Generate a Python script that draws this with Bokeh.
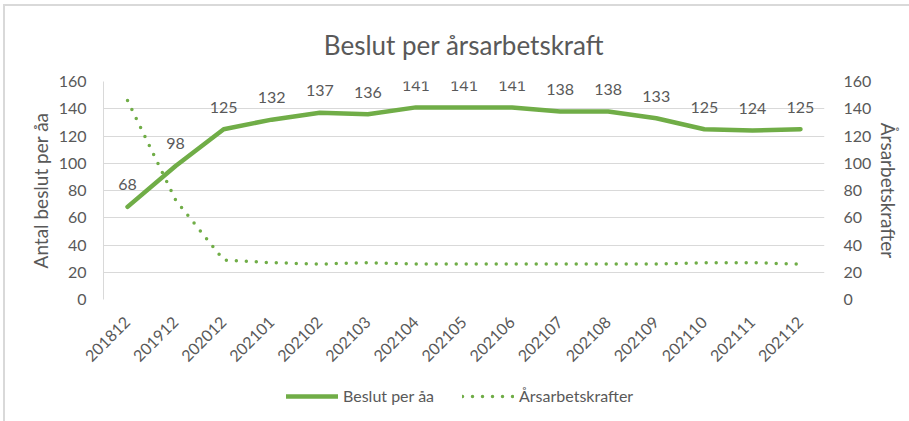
import math
from bokeh.plotting import figure
from bokeh.layouts import column
from bokeh.models import (FactorRange, Range1d, LinearAxis, ColumnDataSource, LabelSet,
                          Legend, LegendItem, FixedTicker)
from bokeh.core.properties import value
from bokeh.embed import file_html
from bokeh.resources import INLINE

months = ["201812", "201912", "202012", "202101", "202102", "202103", "202104", "202105",
          "202106", "202107", "202108", "202109", "202110", "202111", "202112"]
beslut_per_aa = [68, 98, 125, 132, 137, 136, 141, 141, 141, 138, 138, 133, 125, 124, 125]
arsarbetskrafter = [146, 73, 29, 27, 26, 27, 26, 26, 26, 26, 26, 26, 27, 27, 26]
y_ticks = [0, 20, 40, 60, 80, 100, 120, 140, 160]

GREEN = "#70AD47"
GRAY = "#595959"
GRID = "#D9D9D9"
FONT = "Lato"

p = figure(width=904, height=363, x_range=FactorRange(*months), y_range=Range1d(0, 160),
           output_backend="svg", toolbar_location=None,
           min_border_left=98, min_border_right=85, min_border_top=72, min_border_bottom=70)
p.extra_y_ranges = {"y2": Range1d(0, 160)}
p.outline_line_color = None

p.title.text = "Beslut per årsarbetskraft"
p.title.align = "center"
p.title.text_font = FONT
p.title.text_font_size = "26px"
p.title.text_font_style = "normal"
p.title.text_color = GRAY
p.title.standoff = 41

src = ColumnDataSource(dict(m=months, b=beslut_per_aa, a=arsarbetskrafter,
                            lbl=[str(v) for v in beslut_per_aa]))

line1 = dict(line_color=GREEN, line_width=4.5, line_cap="round", line_join="round")
line2 = dict(line_color=GREEN, line_width=3.5, line_dash="0 10", line_cap="round")

p.line("m", "b", source=src, **line1)
p.line("m", "a", source=src, y_range_name="y2", **line2)

labels = LabelSet(x="m", y="b", text="lbl", source=src, y_offset=22, text_align="center",
                  text_baseline="middle", text_font=value(FONT), text_font_size="16px",
                  text_color=GRAY)
p.add_layout(labels)

# axes
p.xaxis.axis_line_color = None
p.xaxis.major_tick_line_color = None
p.xaxis.minor_tick_line_color = None
p.xaxis.major_label_orientation = math.pi / 4
p.xaxis.major_label_text_font = FONT
p.xaxis.major_label_text_font_size = "16px"
p.xaxis.major_label_text_color = GRAY
p.xaxis.major_label_standoff = 14

p.yaxis.ticker = FixedTicker(ticks=y_ticks)
p.yaxis.axis_line_color = GRID
p.yaxis.major_tick_line_color = None
p.yaxis.minor_tick_line_color = None
p.yaxis.major_label_text_font = FONT
p.yaxis.major_label_text_font_size = "16px"
p.yaxis.major_label_text_color = GRAY
p.yaxis.major_label_standoff = 11
p.yaxis.axis_label = "Antal beslut per åa"
p.yaxis.axis_label_text_font = FONT
p.yaxis.axis_label_text_font_size = "19px"
p.yaxis.axis_label_text_font_style = "normal"
p.yaxis.axis_label_text_color = GRAY
p.yaxis.axis_label_standoff = 4

ax2 = LinearAxis(y_range_name="y2", ticker=FixedTicker(ticks=y_ticks))
ax2.axis_line_color = None
ax2.major_tick_line_color = None
ax2.minor_tick_line_color = None
ax2.major_label_text_font = FONT
ax2.major_label_text_font_size = "16px"
ax2.major_label_text_color = GRAY
ax2.major_label_standoff = 13
ax2.axis_label = "Årsarbetskrafter"
ax2.axis_label_text_font = FONT
ax2.axis_label_text_font_size = "19px"
ax2.axis_label_text_font_style = "normal"
ax2.axis_label_text_color = GRAY
ax2.axis_label_standoff = 3
p.add_layout(ax2, "right")

p.xgrid.grid_line_color = None
p.ygrid.grid_line_color = GRID
p.ygrid.ticker = FixedTicker(ticks=y_ticks)

# legend strip (separate figure so the legend is not clipped)
pl = figure(width=904, height=52, x_range=FactorRange(*months), y_range=Range1d(1000, 1001),
            output_backend="svg", toolbar_location=None,
            min_border_left=0, min_border_right=0, min_border_top=0, min_border_bottom=0)
pl.axis.visible = False
pl.grid.grid_line_color = None
pl.outline_line_color = None
lr1 = pl.line("m", "b", source=src, **line1)
lr2 = pl.line("m", "a", source=src, **line2)

legend = Legend(items=[LegendItem(label="Beslut per åa", renderers=[lr1]),
                       LegendItem(label="Årsarbetskrafter", renderers=[lr2])],
                orientation="horizontal", location=(183, 16),
                glyph_width=52, glyph_height=16, label_standoff=5, spacing=28,
                label_text_font=FONT, label_text_font_size="16px", label_text_color=GRAY,
                border_line_color=None, background_fill_alpha=0, padding=2, margin=0)
pl.add_layout(legend, "center")

layout = column(p, pl, spacing=0, margin=(4, 0, 0, 3),
                styles={"border-top": "2px solid #D9D9D9", "border-left": "2px solid #D9D9D9"})
open("out.html", "w").write(file_html(layout, INLINE))
